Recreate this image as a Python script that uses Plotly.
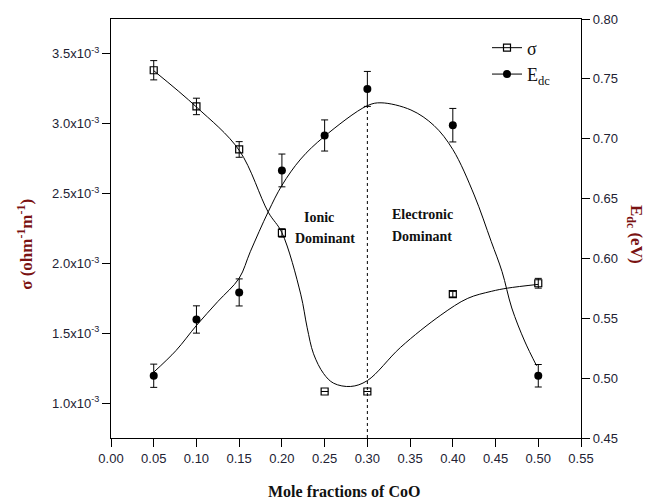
import plotly.graph_objects as go

# ---- data ----
mole_frac = [0.05, 0.10, 0.15, 0.20, 0.25, 0.30, 0.40, 0.50]
sigma = [3.383e-3, 3.124e-3, 2.816e-3, 2.218e-3, 1.083e-3, 1.083e-3, 1.780e-3, 1.858e-3]
sigma_err = [0.069e-3, 0.059e-3, 0.056e-3, 0.03e-3, 0.0, 0.0, 0.02e-3, 0.035e-3]
edc = [0.502, 0.549, 0.5716, 0.6735, 0.7027, 0.7416, 0.7113, 0.502]
edc_err = [0.0097, 0.0114, 0.0113, 0.0137, 0.013, 0.0146, 0.014, 0.0094]

# fitted curves
sigma_fit_x = [0.05, 0.10, 0.15, 0.184, 0.20, 0.222, 0.2296, 0.237, 0.2488, 0.2606, 0.2805, 0.30, 0.339, 0.386, 0.4175, 0.445, 0.464, 0.50]
sigma_fit_y = [3.38e-3, 3.12e-3, 2.81e-3, 2.367e-3, 2.22e-3, 1.78e-3, 1.539e-3, 1.353e-3, 1.211e-3, 1.142e-3, 1.119e-3, 1.161e-3, 1.40e-3, 1.63e-3, 1.75e-3, 1.80e-3, 1.823e-3, 1.85e-3]
edc_fit_x = [0.05, 0.076, 0.10, 0.125, 0.15, 0.163, 0.184, 0.20, 0.222, 0.249, 0.30, 0.316, 0.351, 0.378, 0.40, 0.425, 0.445, 0.4576, 0.469, 0.484, 0.498]
edc_fit_y = [0.505, 0.523, 0.544, 0.564, 0.5835, 0.6056, 0.639, 0.661, 0.683, 0.7015, 0.7276, 0.730, 0.724, 0.711, 0.691, 0.653, 0.614, 0.589, 0.5586, 0.531, 0.5104]

x_ticks = [0.00, 0.05, 0.10, 0.15, 0.20, 0.25, 0.30, 0.35, 0.40, 0.45, 0.50, 0.55]
sigma_tickvals = [1.0e-3, 1.5e-3, 2.0e-3, 2.5e-3, 3.0e-3, 3.5e-3]
sigma_ticktext = ["1.0x10<sup>-3</sup>", "1.5x10<sup>-3</sup>", "2.0x10<sup>-3</sup>",
                  "2.5x10<sup>-3</sup>", "3.0x10<sup>-3</sup>", "3.5x10<sup>-3</sup>"]
edc_ticks = [0.45, 0.50, 0.55, 0.60, 0.65, 0.70, 0.75, 0.80]
divider_x = 0.30
divider_top = 0.7276

serif = "Liberation Serif, Times New Roman, serif"
sans = "Liberation Sans, Arial, sans-serif"
title_red = "#7a1212"

fig = go.Figure()

# fitted curves
fig.add_trace(go.Scatter(x=sigma_fit_x, y=sigma_fit_y, mode="lines", line=dict(color="black", width=1, shape="spline", smoothing=1.0),
                         showlegend=False, yaxis="y"))
fig.add_trace(go.Scatter(x=edc_fit_x, y=edc_fit_y, mode="lines", line=dict(color="black", width=1, shape="spline", smoothing=1.0),
                         showlegend=False, yaxis="y2"))

# data points
fig.add_trace(go.Scatter(x=mole_frac, y=sigma, mode="markers",
                         marker=dict(symbol="square-open", size=7, color="black", line=dict(width=1.2)),
                         error_y=dict(type="data", array=sigma_err, color="black", thickness=1, width=3.5),
                         showlegend=False, yaxis="y"))
fig.add_trace(go.Scatter(x=mole_frac, y=edc, mode="markers",
                         marker=dict(symbol="circle", size=8, color="black"),
                         error_y=dict(type="data", array=edc_err, color="black", thickness=1, width=3.5),
                         showlegend=False, yaxis="y2"))

# legend entries
fig.add_trace(go.Scatter(x=[None], y=[None], mode="lines+markers", name="σ",
                         line=dict(color="black", width=1),
                         marker=dict(symbol="square-open", size=7, color="black", line=dict(width=1.2))))
fig.add_trace(go.Scatter(x=[None], y=[None], mode="lines+markers", name="E<sub>dc</sub>",
                         line=dict(color="black", width=1),
                         marker=dict(symbol="circle", size=8, color="black"), yaxis="y2"))

fig.add_shape(type="line", xref="x", yref="y2", x0=divider_x, x1=divider_x, y0=0.45, y1=divider_top,
              line=dict(color="black", width=1, dash="dot"))

axis_common = dict(showline=True, linecolor="black", linewidth=1.3, ticks="outside", ticklen=8,
                   tickwidth=1.3, tickcolor="black", showgrid=False, zeroline=False,
                   tickfont=dict(family=sans, size=13, color="#222233"))

fig.update_layout(
    width=650, height=504,
    margin=dict(l=111, r=69, t=15, b=66),
    plot_bgcolor="white", paper_bgcolor="white",
    xaxis=dict(range=[0, 0.55], tickvals=x_ticks, tickformat=".2f", mirror=True, **axis_common),
    yaxis=dict(range=[0.75e-3, 3.75e-3], tickvals=sigma_tickvals, ticktext=sigma_ticktext, **axis_common),
    yaxis2=dict(range=[0.45, 0.80], tickvals=edc_ticks, tickformat=".2f", overlaying="y", side="right",
                **axis_common),
    legend=dict(x=0.8, y=0.975, xanchor="left", yanchor="top", bgcolor="rgba(0,0,0,0)",
                font=dict(family=serif, size=18, color="#111"), tracegroupgap=0),
    showlegend=True,
)

def px2paper(px, py):
    return (px - 111) / 470, (438 - py) / 423

annots = [
    ("<b>Ionic</b>", 319, 215, 14, "#111", 0),
    ("<b>Dominant</b>", 325, 237, 14, "#111", 0),
    ("<b>Electronic</b>", 422, 212, 14, "#111", 0),
    ("<b>Dominant</b>", 422, 235, 14, "#111", 0),
    ("<b>Mole fractions of CoO</b>", 344, 492, 16, "#111", 0),
    ("<b>σ (ohm<sup>-1</sup>m<sup>-1</sup>)</b>", 25, 243, 17, title_red, -90),
    ("<b>E<sub>dc</sub> (eV)</b>", 635, 232, 17, title_red, 90),
]
for text, px, py, size, color, ang in annots:
    ax, ay = px2paper(px, py)
    fig.add_annotation(text=text, x=ax, y=ay, xref="paper", yref="paper", showarrow=False,
                       xanchor="center", yanchor="middle", textangle=ang,
                       font=dict(family=serif, size=size, color=color))

fig.write_html("out.html")
